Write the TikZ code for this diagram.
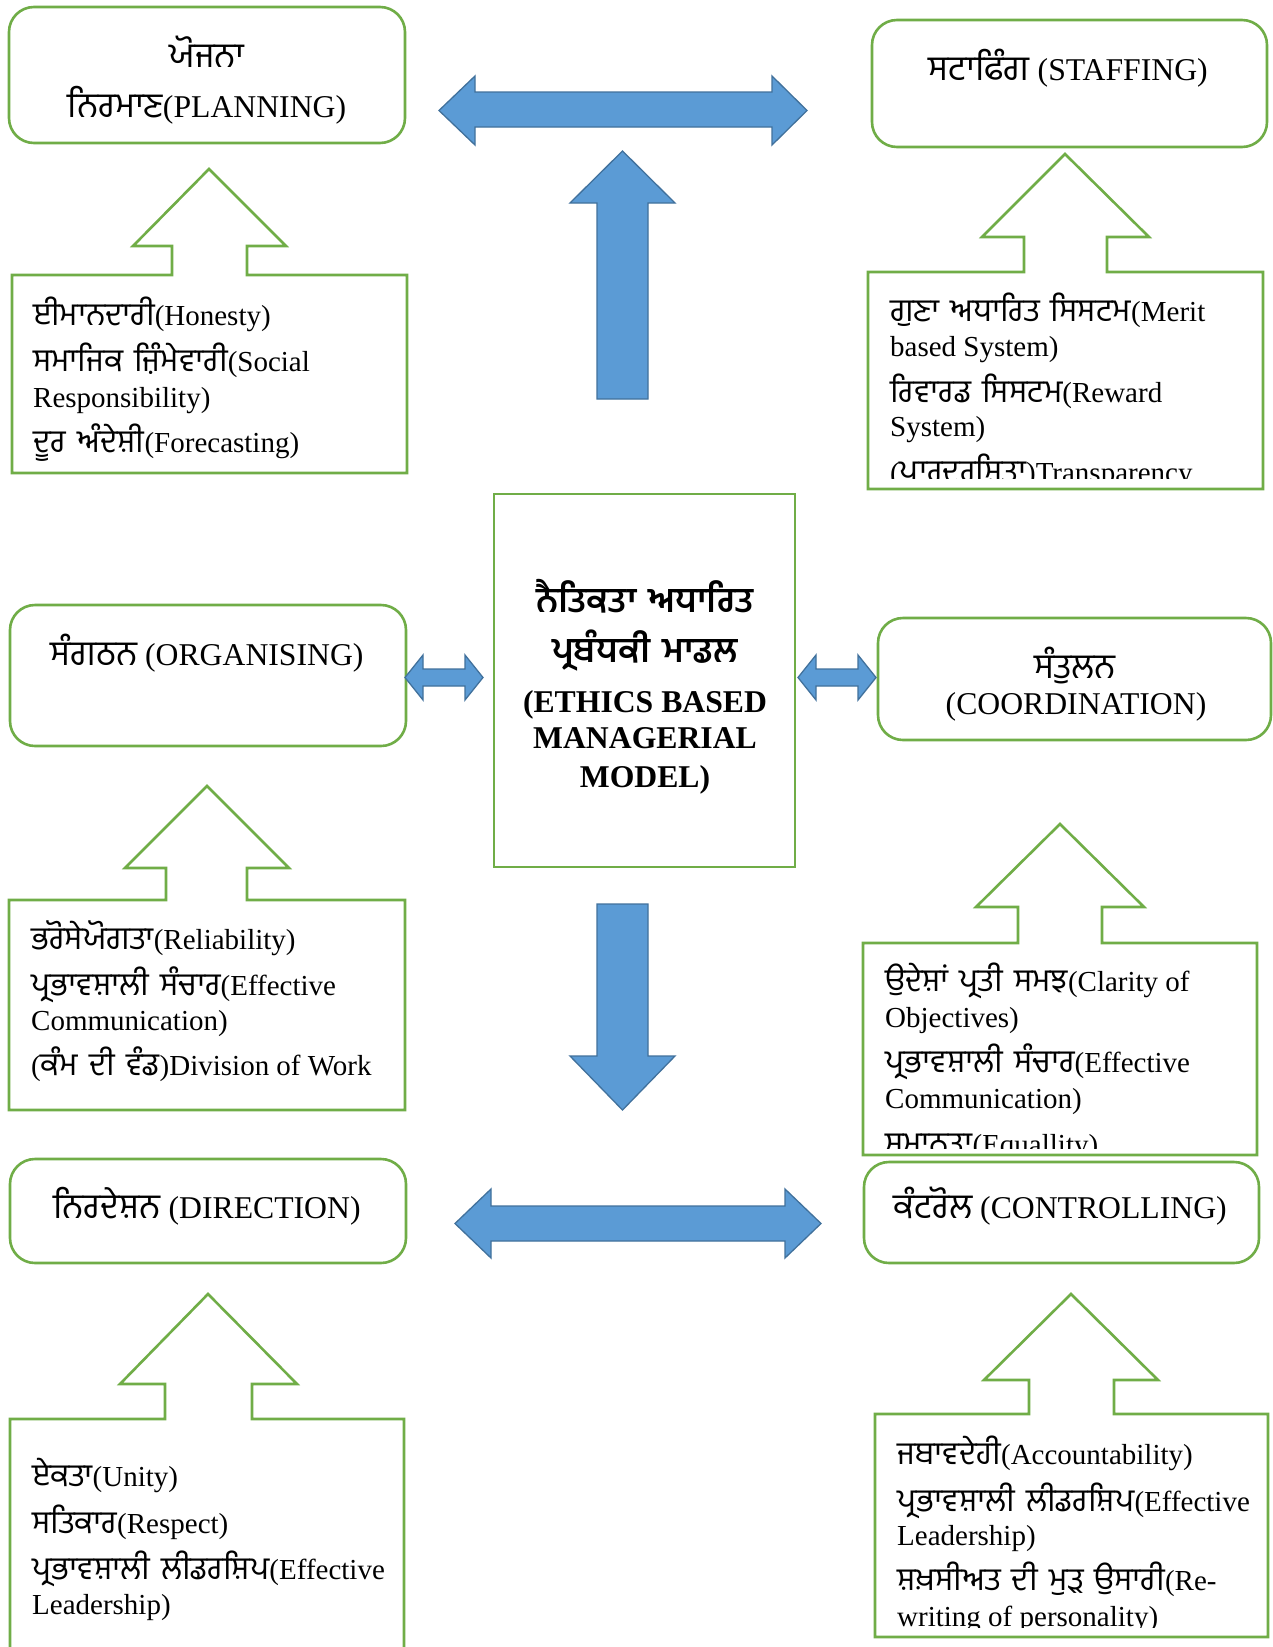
\documentclass[tikz,border=0pt]{standalone}
\usepackage{fontspec}
\setmainfont{Liberation Serif}
\newfontfamily\gurfont[Script=Gurmukhi,Scale=1.1,WordSpace=1.4]{Hind Jalandhar}
\newcommand{\gur}[1]{{\gurfont #1}}
\definecolor{boxgreen}{HTML}{70AD47}
\definecolor{arrowfill}{HTML}{5B9BD5}
\definecolor{arrowline}{HTML}{41719C}
\begin{document}
\begin{tikzpicture}[x=1pt,y=-1pt,
  rbox/.style={draw=boxgreen, line width=2.6pt, rounded corners=25pt},
  cbox/.style={draw=boxgreen, line width=2.6pt},
  callout/.style={draw=boxgreen, line width=2.6pt, line join=miter},
  barrow/.style={fill=arrowfill, draw=arrowline, line width=1.3pt, line join=miter},
  headtxt/.style={font=\fontsize{31.7}{38}\selectfont, inner sep=0pt, anchor=base},
  itemtxt/.style={font=\fontsize{29}{35}\selectfont, inner sep=0pt, anchor=base west},
  ctrtxt/.style={font=\fontsize{31.7}{38}\selectfont\bfseries, inner sep=0pt, anchor=base}]
\clip (0,0) rectangle (1273,1647);
\fill[white] (0,0) rectangle (1273,1647);

% ---------- rounded title boxes ----------
\draw[rbox] (9,7) rectangle (405,143);
\node[headtxt] (plan1) at (207,67) {\gur{ਯੋਜਨਾ}};
\node[headtxt] (plan2) at (207,117) {\gur{ਨਿਰਮਾਣ}(PLANNING)};

\draw[rbox] (872,20) rectangle (1267,147);
\node[headtxt] (staff1) at (1068,80) {\gur{ਸਟਾਫਿੰਗ} (STAFFING)};

\draw[rbox] (10,605) rectangle (406,746);
\node[headtxt] (org1) at (207,665) {\gur{ਸੰਗਠਨ} (ORGANISING)};

\draw[rbox] (878,618) rectangle (1271,740);
\node[headtxt] (coord1) at (1075,678) {\gur{ਸੰਤੁਲਨ}};
\node[headtxt] (coord2) at (1076,714) {(COORDINATION)};

\draw[rbox] (10,1159) rectangle (406,1263);
\node[headtxt] (dir1) at (207,1218) {\gur{ਨਿਰਦੇਸ਼ਨ} (DIRECTION)};

\draw[rbox] (864,1162) rectangle (1259,1263);
\node[headtxt] (ctrl1) at (1060,1218) {\gur{ਕੰਟਰੋਲ} (CONTROLLING)};

% ---------- centre box ----------
\draw[cbox] (494,494) rectangle (795,867);
\node[ctrtxt] (c1) at (645,612) {\gur{ਨੈਤਿਕਤਾ ਅਧਾਰਿਤ}};
\node[ctrtxt] (c2) at (645,662) {\gur{ਪ੍ਰਬੰਧਕੀ ਮਾਡਲ}};
\node[ctrtxt] (c3) at (645,712) {(ETHICS BASED};
\node[ctrtxt] (c4) at (645,748) {MANAGERIAL};
\node[ctrtxt] (c5) at (645,787) {MODEL)};

% ---------- callout boxes (box + up arrow) ----------
% planning
\draw[callout] (12,275) -- (172,275) -- (172,246) -- (133,246) -- (209,169) -- (286,246) -- (247,246) -- (247,275) -- (407,275) -- (407,473) -- (12,473) -- cycle;
\node[itemtxt] (p1) at (33,325) {\gur{ਈਮਾਨਦਾਰੀ}(Honesty)};
\node[itemtxt] (p2) at (33,371) {\gur{ਸਮਾਜਿਕ ਜ਼ਿੰਮੇਵਾਰੀ}(Social};
\node[itemtxt] (p3) at (33,407) {Responsibility)};
\node[itemtxt] (p4) at (33,452) {\gur{ਦੂਰ ਅੰਦੇਸ਼ੀ}(Forecasting)};

% staffing
\draw[callout] (868,272) -- (1024,272) -- (1024,237) -- (982,237) -- (1065,154) -- (1149,237) -- (1107,237) -- (1107,272) -- (1263,272) -- (1263,489) -- (868,489) -- cycle;
\node[itemtxt] (s1) at (890,321) {\gur{ਗੁਣਾ ਅਧਾਰਿਤ ਸਿਸਟਮ}(Merit};
\node[itemtxt] (s2) at (890,356) {based System)};
\node[itemtxt] (s3) at (890,402) {\gur{ਰਿਵਾਰਡ ਸਿਸਟਮ}(Reward};
\node[itemtxt] (s4) at (890,436) {System)};
\begin{scope}
\clip (868,445) rectangle (1263,478);
\node[itemtxt] (s5) at (890,482) {(\gur{ਪਾਰਦਰਸ਼ਿਤਾ})Transparency};
\end{scope}

% organising
\draw[callout] (9,900) -- (166,900) -- (166,868) -- (125,868) -- (207,786) -- (289,868) -- (247,868) -- (247,900) -- (405,900) -- (405,1110) -- (9,1110) -- cycle;
\node[itemtxt] (o1) at (31,949) {\gur{ਭਰੋਸੇਯੋਗਤਾ}(Reliability)};
\node[itemtxt] (o2) at (31,995) {\gur{ਪ੍ਰਭਾਵਸ਼ਾਲੀ ਸੰਚਾਰ}(Effective};
\node[itemtxt] (o3) at (31,1030) {Communication)};
\node[itemtxt] (o4) at (31,1075) {(\gur{ਕੰਮ ਦੀ ਵੰਡ})Division of Work};

% coordination
\draw[callout] (863,943) -- (1018,943) -- (1018,907) -- (976,907) -- (1060,824) -- (1144,907) -- (1102,907) -- (1102,943) -- (1257,943) -- (1257,1155) -- (863,1155) -- cycle;
\node[itemtxt] (k1) at (885,991) {\gur{ਉਦੇਸ਼ਾਂ ਪ੍ਰਤੀ ਸਮਝ}(Clarity of};
\node[itemtxt] (k2) at (885,1027) {Objectives)};
\node[itemtxt] (k3) at (885,1072) {\gur{ਪ੍ਰਭਾਵਸ਼ਾਲੀ ਸੰਚਾਰ}(Effective};
\node[itemtxt] (k4) at (885,1108) {Communication)};
\begin{scope}
\clip (863,1122) rectangle (1257,1148);
\node[itemtxt] (k5) at (885,1154) {\gur{ਸਮਾਨਤਾ}(Equallity)};
\end{scope}

% direction
\draw[callout] (10,1419) -- (165,1419) -- (165,1384) -- (120,1384) -- (208,1294) -- (297,1384) -- (252,1384) -- (252,1419) -- (404,1419) -- (404,1700) -- (10,1700) -- cycle;
\node[itemtxt] (d1) at (32,1486) {\gur{ਏਕਤਾ}(Unity)};
\node[itemtxt] (d2) at (32,1533) {\gur{ਸਤਿਕਾਰ}(Respect)};
\node[itemtxt] (d3) at (32,1579) {\gur{ਪ੍ਰਭਾਵਸ਼ਾਲੀ ਲੀਡਰਸ਼ਿਪ}(Effective};
\node[itemtxt] (d4) at (32,1614) {Leadership)};

% controlling
\draw[callout] (875,1414) -- (1029,1414) -- (1029,1380) -- (984,1380) -- (1071,1294) -- (1158,1380) -- (1114,1380) -- (1114,1414) -- (1268,1414) -- (1268,1637) -- (875,1637) -- cycle;
\node[itemtxt] (t1) at (897,1464) {\gur{ਜਬਾਵਦੇਹੀ}(Accountability)};
\node[itemtxt] (t2) at (897,1511) {\gur{ਪ੍ਰਭਾਵਸ਼ਾਲੀ ਲੀਡਰਸ਼ਿਪ}(Effective};
\node[itemtxt] (t3) at (897,1545) {Leadership)};
\node[itemtxt] (t4) at (897,1590) {\gur{ਸ਼ਖ਼ਸੀਅਤ ਦੀ ਮੁੜ ਉਸਾਰੀ}(Re-};
\begin{scope}
\clip (875,1600) rectangle (1268,1627);
\node[itemtxt] (t5) at (897,1626) {writing of personality)};
\end{scope}

% ---------- blue block arrows ----------
\draw[barrow] (439,110.5) -- (475,76) -- (475,92) -- (772,92) -- (772,76) -- (807,110.5) -- (772,145) -- (772,127) -- (475,127) -- (475,145) -- cycle;
\draw[barrow] (622.5,151) -- (675,203) -- (648,203) -- (648,399) -- (597,399) -- (597,203) -- (570,203) -- cycle;
\draw[barrow] (597,904) -- (648,904) -- (648,1056) -- (675,1056) -- (622.5,1110) -- (570,1056) -- (597,1056) -- cycle;
\draw[barrow] (405,677.5) -- (423,655) -- (423,669) -- (465,669) -- (465,655) -- (483,677.5) -- (465,700) -- (465,686) -- (423,686) -- (423,700) -- cycle;
\draw[barrow] (798,677.5) -- (816,655) -- (816,669) -- (858,669) -- (858,655) -- (876,677.5) -- (858,700) -- (858,686) -- (816,686) -- (816,700) -- cycle;
\draw[barrow] (455,1223.5) -- (491,1189) -- (491,1206) -- (785,1206) -- (785,1189) -- (821,1223.5) -- (785,1258) -- (785,1241) -- (491,1241) -- (491,1258) -- cycle;
\end{tikzpicture}
\end{document}
